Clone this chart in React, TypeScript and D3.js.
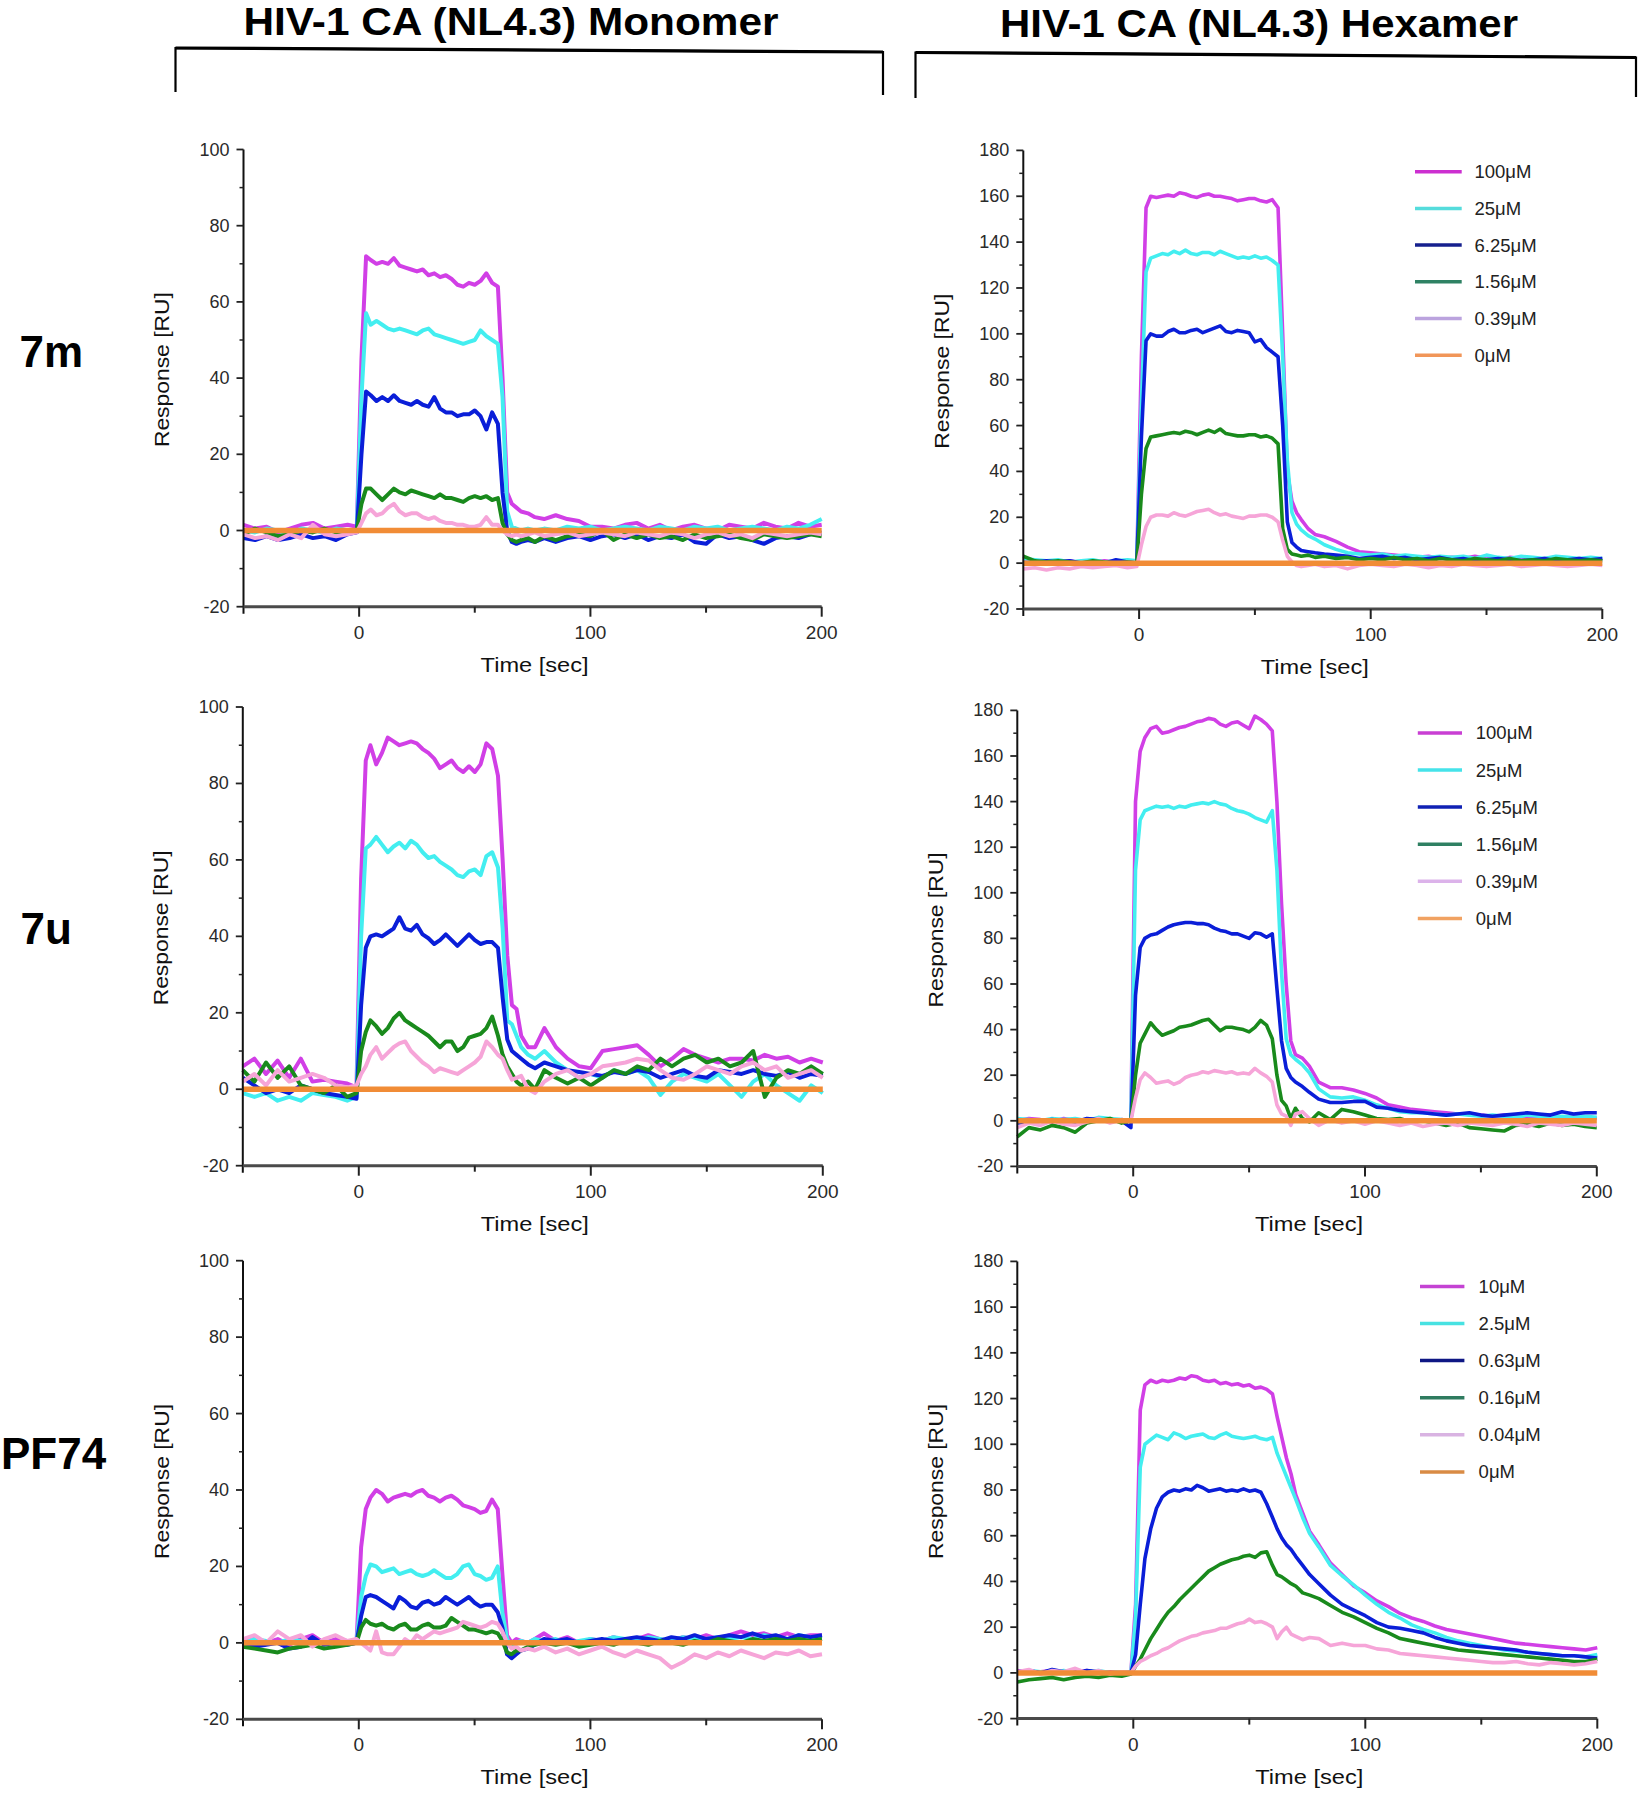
import React from "react";
import * as d3 from "d3";

// ---------- shared time grid (sec) ----------
const T: number[] = [
  -50, -45, -40, -35, -30, -25, -20, -15, -10, -5, -1,
  1, 3, 5, 7.5, 10, 12.5, 15, 17.5, 20, 22.5, 25, 27.5, 30, 32.5, 35, 37.5, 40, 42.5, 45, 47.5, 50, 52.5, 55, 57.5, 60,
  62, 64, 66, 68, 70, 73, 76, 80, 85, 90, 95, 100, 105, 110, 115, 120, 125, 130, 135, 140, 145, 150, 155, 160, 165, 170, 175, 180, 185, 190, 195, 200,
];
const ZERO_T = [-50, 200];
const ZERO_V = [0, 0];

// ---------- 7m / monomer ----------
const M7M_MAG = [1.5, 0.5, 1, -0.5, 0.5, 1.5, 2, 0.5, 1, 1.5, 1,
  45, 72, 71, 70, 70.5, 70, 71.5, 69.5, 69, 68.5, 68, 68.5, 67, 67.5, 66.5, 67, 66, 64.5, 64, 65, 64.5, 65.5, 67.5, 65, 64,
  40, 10, 7, 6, 5, 4.5, 3.5, 3, 4, 3, 2.5, 1, 1, 0.5, 1.5, 2, 0.5, 1.5, 0, 1, 1.5, 0.5, 0, 1.5, 1, 0.5, 2, 1, 0.5, 2, 1, 1.5];
const M7M_CYAN = [0, -0.5, 0.5, 0, -1, 0.5, 0, -0.5, 0.5, 0, 0,
  35, 57, 54, 55, 54, 53, 52.5, 53, 52.5, 52, 51.5, 52.5, 53, 51.5, 51, 50.5, 50, 49.5, 49, 49.5, 50, 52.5, 51, 50, 49,
  35, 5, 1, 0.5, 0, 0.5, 0, 0.5, 0, 1, 0.5, 1, 0, 0.5, 1, 0.5, 0, 1, 0.5, 0, 1, 0.5, 1, 0, 0.5, 1, 0.5, 0, 1, 0.5, 1.5, 3];
const M7M_BLUE = [-2, -2.5, -1.5, -2.5, -2, -1, -2, -1.5, -2.5, -1, -0.5,
  20, 36.5, 35.5, 34, 35, 34, 35.5, 34, 33.5, 33, 34, 33, 32.5, 35, 32, 31, 31, 30, 30.5, 30.5, 31.5, 30, 26.5, 31, 28,
  10, 0, -3, -3.5, -3, -2.5, -3, -2, -3, -2, -1.5, -2.5, -1.5, -1, -2, -1, -2.5, -1.5, -2, -1, -3, -3.5, -1, -2, -1.5, -2.5, -3.5, -2, -1.5, -2, -1, -0.5];
const M7M_GREEN = [-1, 0.5, -0.5, -1.5, -1, 0, -0.5, 0.5, -0.5, 0, 0,
  7, 11, 11, 9.5, 8, 9.5, 11, 10, 9.5, 10.5, 10, 9.5, 9, 8.5, 9.5, 8.5, 8.5, 8, 7.5, 8.5, 9, 8.5, 9, 8, 8.5,
  2, -1, -2.5, -3, -2.5, -2, -3, -1.5, -2.5, -1.5, -1, -1.5, 0, -2.5, -1, -2, -1, -2, -1.5, -2.5, -1, -2, -1.5, -1, -2, -2.5, -1, -1.5, -2, -1.5, -1, -1.5];
const M7M_PINK = [-1, -2, -1.5, -2.5, -1, -2, 1.5, -1, -1.5, -1, -0.5,
  2, 4.5, 5.5, 4, 4.5, 6, 7, 5, 4, 4.5, 4.5, 3.5, 3, 3.5, 2.5, 2, 2, 1.5, 1.5, 1, 1, 1.5, 3.5, 1.5, 1.5,
  0, -1, -1.5, -1, -1.5, -1, -0.5, -1.5, -1, -0.5, -1.5, -1, -0.5, -1, -1.5, -0.5, -1, -1.5, -0.5, -1, -2, -1, -0.5, -1.5, -1, -2, -0.5, -1, -1.5, -1, -0.5, -1];

// ---------- 7m / hexamer ----------
const H7M_MAG = [0.5, 1, 0, 0.5, 1, 0, 0.5, 1, 0.5, 0, 0.5,
  90, 155, 160, 159.5, 160, 160.5, 160, 161.5, 161, 160, 159.5, 160.5, 161, 160, 160, 159.5, 159, 158, 158.5, 159, 159, 158, 157.5, 158.5, 155,
  100, 40, 27, 22, 19, 15, 12.5, 11.5, 9.5, 7, 5, 4.5, 4, 3.5, 3, 2.5, 3, 2, 2.5, 2, 3, 2, 1.5, 2.5, 2, 1.5, 2, 2.5, 1.5, 2, 1.5, 2];
const H7M_CYAN = [2, 1.5, 1, 1.5, 0.5, 1, 1.5, 0.5, 1, 1.5, 1,
  70, 127, 133, 134, 135, 134.5, 136, 135, 136.5, 135, 134.5, 135.5, 135.5, 134.5, 136, 135, 134, 133, 133.5, 133, 134, 133, 133.5, 132, 130,
  90, 45, 22, 17, 14.5, 12, 10.5, 8, 6, 4.5, 4, 3.5, 4, 3, 3.5, 3, 2.5, 3, 2.5, 3, 2, 3.5, 2.5, 2, 3, 2.5, 2, 3, 2.5, 2, 2.5, 2];
const H7M_BLUE = [0, 0.5, 1, 0.5, 1, 0, 0.5, 0, 1.5, 0.5, 0,
  55, 97, 100, 99, 99, 101, 102, 100.5, 100.5, 101.5, 102, 100.5, 101.5, 102.5, 103.5, 101, 100.5, 101.5, 101, 100.5, 96.5, 97.5, 94, 92, 90,
  60, 18, 9, 7, 5.5, 5, 4.5, 4, 3.5, 3, 2, 2.5, 3, 2, 2.5, 1.5, 2, 2.5, 1.5, 2, 1, 1.5, 2, 1.5, 1, 1.5, 2, 1, 1.5, 2, 1.5, 2];
const H7M_GREEN = [3, 1, 0.5, 1, 0.5, 0, 1, 0.5, 0, 0.5, 0,
  30, 50, 55, 55.5, 56, 56.5, 57, 56.5, 57.5, 57, 56, 57, 58, 57, 58.5, 56.5, 56, 55.5, 55.5, 56, 56, 55, 55.5, 54.5, 52,
  15, 6, 4, 3.5, 3, 3.5, 2.5, 3, 2, 2.5, 1.5, 2, 1.5, 2.5, 1.5, 2, 1, 2, 1.5, 1, 2, 1.5, 1, 2, 1, 1.5, 1, 2, 1.5, 1, 1.5, 1];
const H7M_PINK = [-2.5, -2, -3, -2, -2.5, -1.5, -2, -1.5, -1, -2, -1.5,
  8, 16, 20, 21, 21, 20.5, 22, 21, 20.5, 21.5, 22.5, 23, 23.5, 22, 21, 21.5, 20.5, 20, 19.5, 20.5, 20.5, 21, 21, 20, 18,
  10, 3, 0.5, -1, -1.5, -1, -0.5, -1.5, -1, -2.5, -1, -0.5, -1, -1.5, -0.5, -1, -2, -1, -1.5, -0.5, -1, -1.5, -1, -0.5, -1.5, -1, -0.5, -1, -1.5, -1, -0.5, -1];

// ---------- 7u / monomer ----------
const M7U_MAG = [6, 8, 4, 7.5, 3, 8, 2, 2.5, 2, 1.5, 0.5,
  55, 86, 90, 85, 88, 92, 91, 90, 90.5, 91, 90.5, 89, 88, 86.5, 84, 85, 86, 84, 83, 84.5, 83, 85, 90.5, 89, 82,
  60, 35, 22, 21, 14, 11, 11, 16, 11, 8, 6, 5.5, 10, 10.5, 11, 11.5, 9, 6, 8, 10.5, 9, 8, 7, 8, 8, 7.5, 9, 8, 8.5, 7, 8, 7];
const M7U_CYAN = [-1, -2, -1, -3, -2, -3, -1, -1.5, -2, -3, -2,
  40, 63, 64, 66, 64, 62, 63.5, 64.5, 63, 65, 64, 62, 60.5, 61, 59.5, 58.5, 57.5, 56, 55.5, 57, 57.5, 56, 61, 62, 58,
  42, 18, 17, 14, 11, 9, 8, 10, 7, 5, 3, 4, 3, 5, 4, 5, 3, -1.5, 2, 4, 3, 2, 4, 1, -2, 2, 4, 1, -1, -3, 1, -1];
const M7U_BLUE = [3, 1, -1, 0, -1, 1, 0, -1, -1.5, -2, -2.5,
  22, 37, 40, 40.5, 40, 41, 42, 45, 42, 41.5, 43, 40.5, 39.5, 38, 39, 40.5, 39, 37.5, 39, 40.5, 39, 38, 38.5, 38.5, 37,
  24, 13, 10, 9, 8, 6.5, 5.5, 7, 6, 5, 4.5, 4, 3.5, 4.5, 4, 5, 4.5, 3, 4, 5, 3.5, 3, 5, 4.5, 4, 5, 4, 3.5, 4.5, 3, 4, 3.5];
const M7U_GREEN = [5, 2, 7, 3, 6, 1, 0, -1, 1, -2, -1,
  10, 15, 18, 16.5, 14.5, 16, 18.5, 20, 18, 17, 16, 15, 14, 12.5, 11, 12.5, 12.5, 10, 11, 13.5, 14, 14.5, 16, 19, 14,
  9, 6, 4, 2, 1, 2, 0, 5, 3, 1.5, 3, 1, 3, 5, 4, 6, 5, 8, 6, 8, 9, 7, 8, 6, 7, 10, -2, 3, 5, 4, 6, 4];
const M7U_PINK = [2, 4, 1, 5, 2, 3, 4, 3, 1, 0.5, 1,
  4, 6, 9, 11, 8, 9.5, 11, 12, 12.5, 10, 8.5, 7, 6, 4.5, 5.5, 5, 4.5, 4, 5, 6, 7, 8.5, 12.5, 11, 9,
  8, 5, 2.5, 3, 3.5, 0, -1, 2, 4, 5, 3, 4, 6, 6.5, 7, 8, 7.5, 5, 3, 2.5, 4, 6, 5, 4, 6, 7, 5, 6, 3, 4, 5, 3];

// ---------- 7u / hexamer ----------
const H7U_MAG = [0, 1, 0.5, -0.5, 1, 0, 0.5, 1, -0.5, 0.5, 0,
  140, 162, 168, 172, 173, 170, 170.5, 171.5, 172.5, 173, 174, 175, 175.5, 176.5, 176, 174, 173, 174.5, 175, 173.5, 172, 177.5, 176, 174, 171,
  140, 95, 60, 35, 29, 27.5, 24, 17, 14.5, 14.5, 13.5, 12, 10, 7, 6, 5, 4.5, 4, 3.5, 3, 3, 2.5, 2, 2.5, 2, 1.5, 2, 2.5, 1.5, 2, 1.5, 1];
const H7U_CYAN = [1, 0.5, 0, 1, 0.5, 1, 0, 1.5, 1, 0.5, 0,
  110, 132, 136, 137, 138, 137.5, 138, 137, 138, 137.5, 138.5, 139, 139.5, 139, 140, 139, 138.5, 137, 136, 135.5, 134.5, 133, 132, 131, 136,
  110, 65, 36, 29, 27, 24.5, 21, 14, 10.5, 10, 10.5, 9, 7, 5.5, 4, 3.5, 3.5, 3, 2.5, 3, 2.5, 2, 2.5, 2, 1.5, 2.5, 2, 1.5, 2, 1.5, 2, 1.5];
const H7U_BLUE = [-1, -0.5, 0, 0.5, 0, -0.5, 1, 0.5, 0, 0, -3,
  55, 76, 80, 81.5, 82, 83.5, 85, 86, 86.5, 87, 87, 86.5, 86.5, 86, 84.5, 83.5, 83, 82, 82, 81, 80, 82.5, 82, 80.5, 82,
  58, 35, 23, 19, 17, 15, 12.5, 9.5, 8, 8, 8.5, 8.5, 6, 5.5, 4.5, 4, 3.5, 3, 2.5, 3, 3.5, 2.5, 2, 2.5, 3, 3.5, 3, 2.5, 4, 3, 3.5, 3.5];
const H7U_GREEN = [-7, -3, -4, -2, -3, -5, -1, 0, 1, -1, 0,
  20, 34, 38, 43, 40, 37.5, 38.5, 39.5, 41, 41.5, 42, 43, 44, 44.5, 42, 39.5, 41, 41, 40.5, 40, 39, 41, 44, 42, 36,
  20, 9, 6.5, 1, 5.5, 1, -0.5, 3.5, 0.5, 5, 4, 2.5, 1, 0.5, 1, -0.5, 0, -1, -2, -1, -3, -3.5, -4, -4.5, -2, -1.5, -2.5, -1, -2, -1.5, -2.5, -3];
const H7U_PINK = [-3, -1, -2, 0, -1.5, -2, -0.5, 1, -1, 0.5, 0,
  10, 18, 21, 19, 16.5, 17, 17.5, 16, 17, 19, 20, 20.5, 21.5, 21, 22, 21.5, 21, 21.5, 20.5, 21, 20.5, 23, 21, 19.5, 17,
  7, 3, 2, -2, 3, 4, 1, -2, 0.5, -1, 0, -1.5, 0, -1, -2, -1, -2.5, -1.5, -1, -2, -1, -1.5, -2, -1, -1.5, -2.5, -1, -1.5, -2, -1, -1.5, -2];

// ---------- PF74 / monomer ----------
const MPF_MAG = [0.5, 1.5, 0, 1, -0.5, 1, 2, 0, 1, 0.5, 0,
  25, 35, 38, 40, 39, 37, 38, 38.5, 39, 38.5, 39.5, 40, 38.5, 38, 37, 38, 38.5, 37.5, 36, 35.5, 35, 34, 34.5, 37.5, 35,
  18, 2, 0, 1, 0.5, 0, 1, 2.5, 0.5, 1.5, 0, 1, 0.5, 1.5, 0.5, 1, 2, 1, 0.5, 1.5, 1, 2, 1, 2, 3, 2, 2.5, 1.5, 2.5, 1.5, 2, 2];
const MPF_CYAN = [0, 1, 0.5, 0, 1, 0.5, -0.5, 0.5, 0, 0.5, 0,
  12, 17.5, 20.5, 20, 18.5, 19, 19.5, 18, 18.5, 19, 18, 17.5, 18, 19, 18, 17, 17, 18, 20, 20.5, 18, 17.5, 16.5, 17, 20,
  8, 1, -1, 0, 0.5, 0, 1, 0.5, 1, 0, 0.5, 1, 0.5, 1.5, 1, 0.5, 1.5, 1, 0.5, 1.5, 1, 1, 1.5, 1, 1.5, 1, 2, 1.5, 1, 2, 1.5, 1.5];
const MPF_BLUE = [-0.5, -1, -0.5, 0, -1.5, -1, 1.5, -0.5, 0, -0.5, 0,
  7, 12, 12.5, 12, 11, 10, 9, 12, 11, 9.5, 9, 10.5, 11, 10, 10.5, 12, 11, 10, 11, 12, 10.5, 9.5, 10, 10, 8,
  4, -3, -4, -3, -2, -1.5, -0.5, 1, 0.5, 1, 0, 0.5, 1, 0.5, 1, 1.5, 1, 0.5, 1.5, 1, 2, 1, 1.5, 2, 1.5, 2.5, 1.5, 2, 1, 2, 1.5, 2];
const MPF_GREEN = [-1, -1.5, -2, -2.5, -1.5, -1, -0.5, -1.5, -1, -0.5, 0,
  4, 6, 5, 4.5, 5, 4, 3.5, 4.5, 5, 3.5, 3.5, 4.5, 5, 4, 4, 4.5, 6.5, 5.5, 4.5, 3.5, 3.5, 3, 2.5, 3, 2.5,
  0.5, -2.5, -3, -2, -2, -1, -0.5, 0, -0.5, 0, -1, -0.5, 0, -0.5, 0.5, 0, -0.5, 0.5, 0, -0.5, 0.5, 0, 1, 0.5, 0, 1, 0.5, 1, 0.5, 1, 0.5, 1];
const MPF_PINK = [1, 2, 0, 3, 1, 2, -1, 1, 2, 0.5, 1,
  0, -1, -2, 3, -2.5, -3, -3, -1, 1, 0, 2, 1, 2, 3, 2.5, 3, 3.5, 4, 5.5, 5, 4.5, 4, 4.5, 5.5, 5,
  3, 0, -1.5, -1, -2, -1.5, -2, -1, -2.5, -1.5, -3, -2, -1, -2.5, -3.5, -2, -3, -4, -6.5, -5, -3, -4, -2.5, -3.5, -2, -3, -4, -2.5, -3, -2, -3.5, -3];

// ---------- PF74 / hexamer ----------
const HPF_MAG = [1, 0, 0.5, 1, 0, 0.5, 1, 0, 0.5, 0, 0.5,
  30, 115, 126, 128, 127, 128, 127.5, 128, 129, 128.5, 130, 129.5, 128, 127.5, 128, 126.5, 127, 126, 126.5, 125.5, 126, 124.5, 125, 124, 122,
  112, 103, 94, 87, 78, 70, 62, 56, 48, 43, 38, 35, 31.5, 29, 26, 24, 22.5, 20.5, 19, 18, 17, 16, 15, 14, 13, 12.5, 12, 11.5, 11, 10.5, 10, 11];
const HPF_CYAN = [0, 1, 0.5, -0.5, 1, 0, 0.5, 1, 0, 0.5, 0,
  25, 90, 100, 102, 104, 103, 102, 105, 104, 102.5, 103.5, 104, 104.5, 103, 102.5, 104, 105, 103.5, 103, 102.5, 103, 103.5, 102.5, 102, 103,
  96, 91, 86, 81, 76, 68, 61, 55, 47, 42.5, 38.5, 34, 30, 26.5, 24, 21, 19, 17.5, 15.5, 14, 13, 12, 11, 10, 9.5, 9, 8.5, 8, 7.5, 7.5, 7, 8];
const HPF_BLUE = [0.5, 1, 0, 1.5, 0.5, 0, 1, 0.5, -0.5, 0, 0,
  8, 30, 50, 63, 72, 77, 79, 80, 79.5, 80.5, 80, 82, 81, 79.5, 80, 80.5, 79.5, 80, 79.5, 80.5, 79.5, 80, 79, 74, 68,
  63, 59, 56, 54, 51, 47, 43, 39, 34, 30, 27.5, 25, 22, 20, 19.5, 18.5, 17.5, 15.5, 14, 13, 12, 11.5, 11, 10.5, 10, 9, 8.5, 8, 7.5, 7.5, 7, 6.5];
const HPF_GREEN = [-4, -3, -2.5, -2, -3, -2, -1.5, -2, -1, -1.5, -0.5,
  3, 6, 10, 15, 19, 23, 26.5, 29, 32, 34.5, 37, 39.5, 42, 44.5, 46, 47.5, 48.5, 49.5, 50, 51, 51.5, 50.5, 52.5, 53, 47,
  43, 42, 40.5, 39, 38, 35, 34, 32.5, 29.5, 26.5, 24.5, 22, 19.5, 17.5, 15, 14, 13, 12, 11, 10, 9.5, 9, 8.5, 8, 7.5, 7, 6.5, 6, 5.5, 5, 5, 6];
const HPF_PINK = [0.5, 1.5, -0.5, 1, 0.5, 2, 0, 1, -0.5, 0.5, 0,
  3, 5, 6, 7.5, 8.5, 10, 11, 12.5, 14, 15, 16, 16.5, 17.5, 18, 18.5, 19.5, 19.5, 20.5, 21.5, 22, 23.5, 22, 22.5, 21.5, 20,
  15, 18, 20, 17, 16, 14.5, 15.5, 15, 12, 13, 12, 12, 10.5, 10, 8.5, 8, 7.5, 7, 6.5, 6, 5.5, 5, 4.5, 4.5, 5, 4, 3.5, 4.5, 4, 3.5, 4, 5];

// ---------- ticks & labels ----------
const X_MAJOR = [0, 100, 200];
const X_MINOR = [50, 150];
const MONO_TICKS = [-20, 0, 20, 40, 60, 80, 100];
const MONO_MINOR = [-10, 10, 30, 50, 70, 90];
const HEX_TICKS = [-20, 0, 20, 40, 60, 80, 100, 120, 140, 160, 180];
const HEX_MINOR = [-10, 10, 30, 50, 70, 90, 110, 130, 150, 170];
const LEGEND_A = ["100\u03bcM", "25\u03bcM", "6.25\u03bcM", "1.56\u03bcM", "0.39\u03bcM", "0\u03bcM"];
const LEGEND_B = ["10\u03bcM", "2.5\u03bcM", "0.63\u03bcM", "0.16\u03bcM", "0.04\u03bcM", "0\u03bcM"];
const ROW_LABELS = ["7m", "7u", "PF74"];
const HEADERS = ["HIV-1 CA (NL4.3) Monomer", "HIV-1 CA (NL4.3) Hexamer"];

// ---------- colours ----------
const C_MAG = "#d13fe6";
const C_CYAN = "#43eef0";
const C_BLUE = "#0a1ed8";
const C_GREEN = "#198a1c";
const C_PINK = "#f6a5d8";
const C_ORANGE = "#f18c36";
const TRACE_COLORS = [C_MAG, C_CYAN, C_BLUE, C_GREEN, C_PINK];
const LEG_COL_1 = ["#cc2fd0", "#55dcdc", "#16208e", "#2f8264", "#bba3de", "#f19659"];
const LEG_COL_2 = ["#c93fd3", "#45e3ea", "#1022b4", "#2f8062", "#dcb3ea", "#f1a262"];
const LEG_COL_3 = ["#c443d3", "#47e2e2", "#0e1784", "#2f7b5f", "#d9b3e2", "#d98b45"];

const FONT = "'Liberation Sans', Arial, Helvetica, sans-serif";

type Legend = { labels: string[]; colors: string[]; x1: number; x2: number; tx: number; y0: number; dy: number };
type PanelProps = {
  px: number; py: number; w: number; h: number;
  yMax: number; ticks: number[]; minor: number[];
  series: number[][]; lw: number; legend?: Legend;
};

function Panel({ px, py, w, h, yMax, ticks, minor, series, lw, legend }: PanelProps) {
  const x = d3.scaleLinear().domain([-50, 200]).range([px, px + w]);
  const y = d3.scaleLinear().domain([-20, yMax]).range([py + h, py]);
  const line = d3.line<number>().x((_, i) => x(T[i])).y((d) => y(d));
  const zline = d3.line<number>().x((_, i) => x(ZERO_T[i])).y((d) => y(d));
  const by = py + h;
  const cx = (px + px + w) / 2;
  const cy = (py + by) / 2 - 8.5;
  return (
    <g>
      {series.map((s, i) => (
        <path key={i} d={line(s) || ""} fill="none" stroke={TRACE_COLORS[i]} strokeWidth={lw} strokeLinejoin="round" />
      ))}
      <path d={zline(ZERO_V) || ""} fill="none" stroke={C_ORANGE} strokeWidth={5.5} />
      {/* axes */}
      <line x1={px} x2={px} y1={py} y2={by + 7} stroke="#111" strokeWidth={2} />
      <line x1={px} x2={px + w} y1={by} y2={by} stroke="#4a4a4a" strokeWidth={3} />
      {X_MAJOR.map((t) => (
        <g key={t}>
          <line x1={x(t)} x2={x(t)} y1={by} y2={by + 10} stroke="#222" strokeWidth={2} />
          <text x={x(t)} y={by + 32} fontSize={19} textAnchor="middle" fill="#2a2a2a" fontFamily={FONT}>{t}</text>
        </g>
      ))}
      {X_MINOR.map((t) => (
        <line key={t} x1={x(t)} x2={x(t)} y1={by} y2={by + 6} stroke="#222" strokeWidth={2} />
      ))}
      {ticks.map((v) => (
        <g key={v}>
          <line x1={px - 7} x2={px} y1={y(v)} y2={y(v)} stroke="#222" strokeWidth={1.8} />
          <text x={px - 14} y={y(v)} fontSize={18} textAnchor="end" dominantBaseline="central" fill="#2a2a2a" fontFamily={FONT}>{v}</text>
        </g>
      ))}
      {minor.map((v) => (
        <line key={v} x1={px - 4} x2={px} y1={y(v)} y2={y(v)} stroke="#222" strokeWidth={1.5} />
      ))}
      <text x={cx + 2} y={by + 65} fontSize={21} textAnchor="middle" fill="#111" fontFamily={FONT} textLength={108} lengthAdjust="spacingAndGlyphs">Time [sec]</text>
      <text transform={`translate(${px - 82},${cy}) rotate(-90)`} fontSize={21} textAnchor="middle" dominantBaseline="central" fill="#111" fontFamily={FONT} textLength={155} lengthAdjust="spacingAndGlyphs">Response [RU]</text>
      {legend &&
        legend.labels.map((lab, i) => (
          <g key={lab}>
            <line x1={legend.x1} x2={legend.x2} y1={legend.y0 + i * legend.dy} y2={legend.y0 + i * legend.dy} stroke={legend.colors[i]} strokeWidth={3.5} />
            <text x={legend.tx} y={legend.y0 + i * legend.dy} fontSize={18.5} dominantBaseline="central" fill="#222" fontFamily={FONT}>{lab}</text>
          </g>
        ))}
    </g>
  );
}

export default function App() {
  return (
    <svg width={1641} height={1800} viewBox="0 0 1641 1800" style={{ position: "absolute", left: 0, top: 0, display: "block", background: "#fff" }}>
      <rect x={0} y={0} width={1641} height={1800} fill="#fff" />
      {/* headers */}
      <text x={243.5} y={35} fontSize={39} fontWeight="bold" fontFamily={FONT} textLength={535} lengthAdjust="spacingAndGlyphs">{HEADERS[0]}</text>
      <text x={1000} y={36.5} fontSize={39} fontWeight="bold" fontFamily={FONT} textLength={518} lengthAdjust="spacingAndGlyphs">{HEADERS[1]}</text>
      {/* brackets */}
      <polyline points="175.5,92 175.5,48 883,52 883,95" fill="none" stroke="#000" strokeWidth={2.2} />
      <line x1={175.5} y1={48} x2={883} y2={52} stroke="#000" strokeWidth={3.2} />
      <polyline points="915.5,98 915.5,52.5 1636,57.5 1636,97" fill="none" stroke="#000" strokeWidth={2.2} />
      <line x1={915.5} y1={52.5} x2={1636} y2={57.5} stroke="#000" strokeWidth={3.2} />
      {/* row labels */}
      <text x={19.5} y={367} fontSize={44} fontWeight="bold" fontFamily={FONT}>{ROW_LABELS[0]}</text>
      <text x={20.5} y={944} fontSize={44} fontWeight="bold" fontFamily={FONT}>{ROW_LABELS[1]}</text>
      <text x={1} y={1469} fontSize={44} fontWeight="bold" fontFamily={FONT}>{ROW_LABELS[2]}</text>

      <Panel px={243.5} py={149.5} w={578.2} h={457.2} yMax={100} ticks={MONO_TICKS} minor={MONO_MINOR} lw={4}
        series={[M7M_MAG, M7M_CYAN, M7M_BLUE, M7M_GREEN, M7M_PINK]} />
      <Panel px={1023.3} py={150.4} w={579} h={458.6} yMax={180} ticks={HEX_TICKS} minor={HEX_MINOR} lw={3.6}
        series={[H7M_MAG, H7M_CYAN, H7M_BLUE, H7M_GREEN, H7M_PINK]}
        legend={{ labels: LEGEND_A, colors: LEG_COL_1, x1: 1415, x2: 1461.7, tx: 1474.5, y0: 171.7, dy: 36.7 }} />
      <Panel px={242.8} py={707} w={580} h={458.7} yMax={100} ticks={MONO_TICKS} minor={MONO_MINOR} lw={4}
        series={[M7U_MAG, M7U_CYAN, M7U_BLUE, M7U_GREEN, M7U_PINK]} />
      <Panel px={1017.3} py={710.4} w={579.5} h={456} yMax={180} ticks={HEX_TICKS} minor={HEX_MINOR} lw={3.6}
        series={[H7U_MAG, H7U_CYAN, H7U_BLUE, H7U_GREEN, H7U_PINK]}
        legend={{ labels: LEGEND_A, colors: LEG_COL_2, x1: 1417.8, x2: 1462, tx: 1475.8, y0: 732.9, dy: 37.1 }} />
      <Panel px={243} py={1260.7} w={579} h={458.6} yMax={100} ticks={MONO_TICKS} minor={MONO_MINOR} lw={4}
        series={[MPF_MAG, MPF_CYAN, MPF_BLUE, MPF_GREEN, MPF_PINK]} />
      <Panel px={1017.3} py={1261.4} w={580} h={457.2} yMax={180} ticks={HEX_TICKS} minor={HEX_MINOR} lw={3.6}
        series={[HPF_MAG, HPF_CYAN, HPF_BLUE, HPF_GREEN, HPF_PINK]}
        legend={{ labels: LEGEND_B, colors: LEG_COL_3, x1: 1420, x2: 1464.4, tx: 1478.6, y0: 1286.4, dy: 37.1 }} />
    </svg>
  );
}
